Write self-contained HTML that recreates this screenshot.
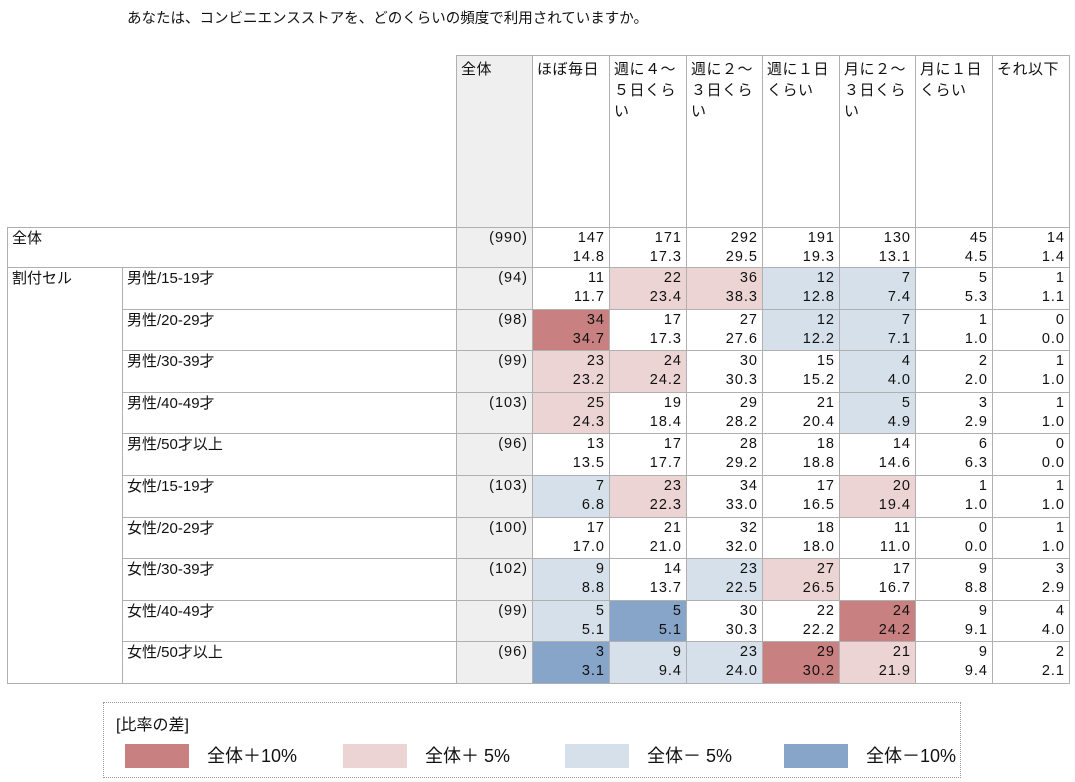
<!DOCTYPE html>
<html><head><meta charset="utf-8">
<style>
body{margin:0;width:1075px;height:782px;background:#fff;font-family:"Liberation Sans","Noto Sans CJK JP",sans-serif;color:#111;position:relative;overflow:hidden}
.title{position:absolute;left:127px;top:7px;font-size:14.5px}
table{position:absolute;left:7px;top:55px;border-collapse:collapse;table-layout:fixed;font-size:15px}
td{border:1px solid #b0b0b0;padding:0;vertical-align:top;overflow:hidden}
td.h{padding:3px 0 0 4px;line-height:21px;letter-spacing:0.5px}
td.n{text-align:right;padding:1px 4px 0 0;line-height:19px;font-size:14.5px;letter-spacing:1px}
td.g{background:#efefef}
td.l{padding:1px 0 0 4px;line-height:19px}
.D{background:#c98080}.P{background:#ecd4d4}.B{background:#d5e0ea}.K{background:#87a5c9}
tr.r td{height:40.6px;box-sizing:border-box}
tr.r{height:41.6px}
.legend{position:absolute;left:103px;top:702px;width:856px;height:74px;border:1px dotted #999}
.legend .t{position:absolute;left:12px;top:8px;font-size:16px}
.sw{position:absolute;top:41px;width:64px;height:24px}
.lt{position:absolute;top:41px;font-size:18px;line-height:24px}
</style></head><body>
<div class="title">あなたは、コンビニエンスストアを、どのくらいの頻度で利用されていますか。</div>
<table>
<colgroup><col style="width:115px"><col style="width:334px"><col style="width:76px"><col style="width:77px"><col style="width:77px"><col style="width:76px"><col style="width:77px"><col style="width:76px"><col style="width:77px"><col style="width:77px"></colgroup>
<tr style="height:172px"><td style="border:none;border-bottom:1px solid #b0b0b0"></td><td style="border:none;border-bottom:1px solid #b0b0b0"></td><td class="h g">全体</td><td class="h">ほぼ毎日</td><td class="h">週に４～<br>５日くら<br>い</td><td class="h">週に２～<br>３日くら<br>い</td><td class="h">週に１日<br>くらい</td><td class="h">月に２～<br>３日くら<br>い</td><td class="h">月に１日<br>くらい</td><td class="h">それ以下</td></tr>
<tr style="height:40px"><td class="l" colspan="2">全体</td><td class="n g">(990)</td><td class="n">147<br>14.8</td><td class="n">171<br>17.3</td><td class="n">292<br>29.5</td><td class="n">191<br>19.3</td><td class="n">130<br>13.1</td><td class="n">45<br>4.5</td><td class="n">14<br>1.4</td></tr>
<tr class="r"><td class="l" rowspan="10">割付セル</td><td class="l">男性/15-19才</td><td class="n g">(94)</td><td class="n">11<br>11.7</td><td class="n P">22<br>23.4</td><td class="n P">36<br>38.3</td><td class="n B">12<br>12.8</td><td class="n B">7<br>7.4</td><td class="n">5<br>5.3</td><td class="n">1<br>1.1</td></tr>
<tr class="r"><td class="l">男性/20-29才</td><td class="n g">(98)</td><td class="n D">34<br>34.7</td><td class="n">17<br>17.3</td><td class="n">27<br>27.6</td><td class="n B">12<br>12.2</td><td class="n B">7<br>7.1</td><td class="n">1<br>1.0</td><td class="n">0<br>0.0</td></tr>
<tr class="r"><td class="l">男性/30-39才</td><td class="n g">(99)</td><td class="n P">23<br>23.2</td><td class="n P">24<br>24.2</td><td class="n">30<br>30.3</td><td class="n">15<br>15.2</td><td class="n B">4<br>4.0</td><td class="n">2<br>2.0</td><td class="n">1<br>1.0</td></tr>
<tr class="r"><td class="l">男性/40-49才</td><td class="n g">(103)</td><td class="n P">25<br>24.3</td><td class="n">19<br>18.4</td><td class="n">29<br>28.2</td><td class="n">21<br>20.4</td><td class="n B">5<br>4.9</td><td class="n">3<br>2.9</td><td class="n">1<br>1.0</td></tr>
<tr class="r"><td class="l">男性/50才以上</td><td class="n g">(96)</td><td class="n">13<br>13.5</td><td class="n">17<br>17.7</td><td class="n">28<br>29.2</td><td class="n">18<br>18.8</td><td class="n">14<br>14.6</td><td class="n">6<br>6.3</td><td class="n">0<br>0.0</td></tr>
<tr class="r"><td class="l">女性/15-19才</td><td class="n g">(103)</td><td class="n B">7<br>6.8</td><td class="n P">23<br>22.3</td><td class="n">34<br>33.0</td><td class="n">17<br>16.5</td><td class="n P">20<br>19.4</td><td class="n">1<br>1.0</td><td class="n">1<br>1.0</td></tr>
<tr class="r"><td class="l">女性/20-29才</td><td class="n g">(100)</td><td class="n">17<br>17.0</td><td class="n">21<br>21.0</td><td class="n">32<br>32.0</td><td class="n">18<br>18.0</td><td class="n">11<br>11.0</td><td class="n">0<br>0.0</td><td class="n">1<br>1.0</td></tr>
<tr class="r"><td class="l">女性/30-39才</td><td class="n g">(102)</td><td class="n B">9<br>8.8</td><td class="n">14<br>13.7</td><td class="n B">23<br>22.5</td><td class="n P">27<br>26.5</td><td class="n">17<br>16.7</td><td class="n">9<br>8.8</td><td class="n">3<br>2.9</td></tr>
<tr class="r"><td class="l">女性/40-49才</td><td class="n g">(99)</td><td class="n B">5<br>5.1</td><td class="n K">5<br>5.1</td><td class="n">30<br>30.3</td><td class="n">22<br>22.2</td><td class="n D">24<br>24.2</td><td class="n">9<br>9.1</td><td class="n">4<br>4.0</td></tr>
<tr class="r"><td class="l">女性/50才以上</td><td class="n g">(96)</td><td class="n K">3<br>3.1</td><td class="n B">9<br>9.4</td><td class="n B">23<br>24.0</td><td class="n D">29<br>30.2</td><td class="n P">21<br>21.9</td><td class="n">9<br>9.4</td><td class="n">2<br>2.1</td></tr>
</table>
<div class="legend">
<div class="t">[比率の差]</div>
<div class="sw D" style="left:21px"></div><div class="lt" style="left:103px">全体＋10%</div>
<div class="sw P" style="left:239px"></div><div class="lt" style="left:321px">全体＋ 5%</div>
<div class="sw B" style="left:461px"></div><div class="lt" style="left:543px">全体－ 5%</div>
<div class="sw K" style="left:680px"></div><div class="lt" style="left:762px">全体－10%</div>
</div>
</body></html>
